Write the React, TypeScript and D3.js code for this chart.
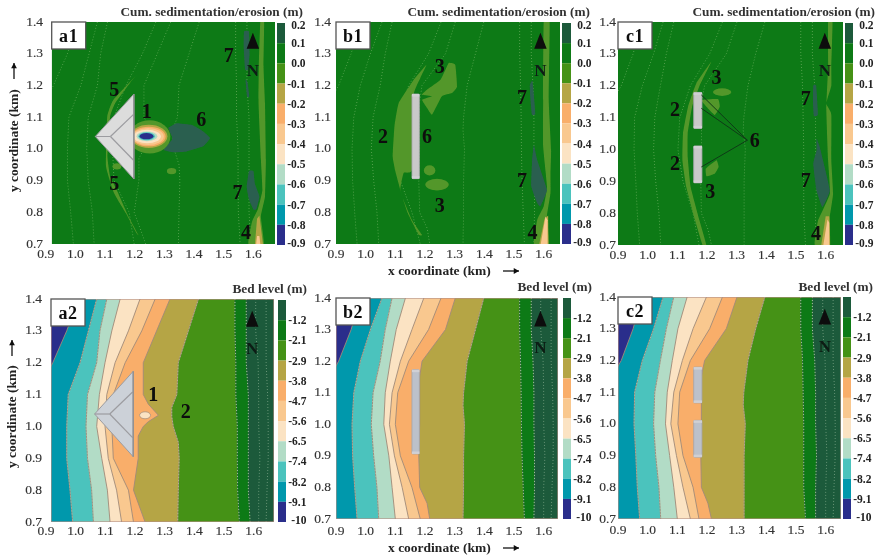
import React from "react";
import * as d3 from "d3";

type P = [number, number];

// ---------- colour scale ----------
const paletteColors = ["#1b5a3a", "#0a7a14", "#459216", "#b5a545", "#f9ae6a", "#f9c88f", "#fbe3c3", "#b2dcc6", "#4cc3bd", "#0098ac", "#2b2e8b"];
const erosionTicks = ["0.2", "0.1", "0.0", "-0.1", "-0.2", "-0.3", "-0.4", "-0.5", "-0.6", "-0.7", "-0.8", "-0.9"];
const bedTicks = ["", "-1.2", "-2.1", "-2.9", "-3.8", "-4.7", "-5.6", "-6.5", "-7.4", "-8.2", "-9.1", "-10"];
const xTicks = [0.9, 1.0, 1.1, 1.2, 1.3, 1.4, 1.5, 1.6];
const yTicks = [0.7, 0.8, 0.9, 1.0, 1.1, 1.2, 1.3, 1.4];
const yLevels = [1.4, 1.3, 1.2, 1.1, 1.0, 0.9, 0.8, 0.7];

// ---------- bed level contours (km), x at each y level ----------
const a2I1 = [0.992, 0.953, 0.906, 0.85, 0.8, 0.8, 0.8, 0.8];
const a2I2 = [1.054, 1.026, 0.998, 0.958, 0.953, 0.953, 0.964, 0.973];
const a2I3 = [1.088, 1.065, 1.054, 1.023, 1.018, 1.023, 1.037, 1.043];
const a2I4 = [1.133, 1.105, 1.082, 1.063, 1.054, 1.071, 1.09, 1.099];
const a2I5 = [1.2, 1.161, 1.116, 1.088, 1.082, 1.093, 1.121, 1.138];
const a2I6 = [1.251, 1.206, 1.15, 1.11, 1.105, 1.11, 1.161, 1.178];
const a2I7: P[] = [[1.301, 1.4], [1.256, 1.3], [1.211, 1.2], [1.211, 1.1], [1.228, 1.07], [1.262, 1.035], [1.228, 1.015], [1.211, 1.0], [1.194, 0.97], [1.194, 0.9], [1.178, 0.8], [1.217, 0.7]];
const a2I8: P[] = [[1.397, 1.4], [1.363, 1.3], [1.329, 1.2], [1.324, 1.1], [1.307, 1.06], [1.307, 1.03], [1.312, 1.0], [1.329, 0.95], [1.332, 0.9], [1.329, 0.8], [1.327, 0.7]];
const a2I9 = [1.52, 1.52, 1.523, 1.523, 1.528, 1.528, 1.529, 1.535];
const a2I10 = [1.558, 1.558, 1.558, 1.565, 1.565, 1.565, 1.565, 1.571];

const b2I1 = [0.982, 0.951, 0.909, 0.85, 0.8, 0.8, 0.8, 0.8];
const b2I2 = [1.055, 1.016, 0.982, 0.96, 0.954, 0.956, 0.963, 0.971];
const b2I3 = [1.089, 1.066, 1.049, 1.025, 1.019, 1.027, 1.038, 1.044];
const b2I4 = [1.134, 1.103, 1.083, 1.066, 1.061, 1.078, 1.089, 1.1];
const b2I5 = [1.196, 1.156, 1.117, 1.089, 1.08, 1.097, 1.123, 1.145];
const b2I6 = [1.254, 1.212, 1.145, 1.108, 1.1, 1.117, 1.156, 1.184];
const b2I7: P[] = [[1.302, 1.4], [1.269, 1.3], [1.19, 1.2], [1.182, 1.15], [1.182, 1.0], [1.179, 0.9], [1.182, 0.8], [1.207, 0.75], [1.216, 0.7]];
const b2I8: P[] = [[1.398, 1.4], [1.37, 1.3], [1.342, 1.2], [1.33, 1.1], [1.328, 1.06], [1.333, 1.0], [1.33, 0.9], [1.33, 0.8], [1.328, 0.7]];
const b2I9 = [1.519, 1.519, 1.522, 1.524, 1.525, 1.527, 1.531, 1.535];
const b2I10 = [1.558, 1.558, 1.564, 1.567, 1.567, 1.569, 1.569, 1.567];

const c2I1 = [0.979, 0.951, 0.911, 0.85, 0.8, 0.8, 0.8, 0.8];
const c2I2 = [1.052, 1.02, 0.982, 0.956, 0.954, 0.96, 0.965, 0.973];
const c2I3 = [1.088, 1.063, 1.043, 1.024, 1.02, 1.027, 1.038, 1.044];
const c2I4 = [1.133, 1.102, 1.083, 1.066, 1.06, 1.074, 1.088, 1.1];
const c2I5 = [1.198, 1.153, 1.117, 1.088, 1.078, 1.097, 1.119, 1.144];
const c2I6 = [1.252, 1.209, 1.144, 1.108, 1.102, 1.119, 1.153, 1.173];
const c2I7: P[] = [[1.301, 1.4], [1.265, 1.3], [1.192, 1.2], [1.181, 1.15], [1.181, 1.0], [1.179, 0.9], [1.181, 0.8], [1.203, 0.75], [1.215, 0.7]];
const c2I8: P[] = [[1.395, 1.4], [1.364, 1.3], [1.338, 1.2], [1.324, 1.1], [1.322, 1.06], [1.329, 1.0], [1.325, 0.9], [1.325, 0.8], [1.325, 0.7]];
const c2I9 = [1.516, 1.516, 1.522, 1.524, 1.526, 1.526, 1.526, 1.532];
const c2I10 = [1.555, 1.555, 1.563, 1.566, 1.566, 1.569, 1.566, 1.566];

const shoalDots1 = [1.59, 1.59, 1.598, 1.6, 1.6, 1.604, 1.6, 1.6];
const shoalDots2 = [1.625, 1.625, 1.625, 1.63, 1.632, 1.632, 1.628, 1.625];

// ---------- sedimentation / erosion patches (km) ----------
const a1Band: P[] = [[1.187, 1.234], [1.164, 1.208], [1.114, 1.144], [1.097, 1.102], [1.088, 0.976], [1.097, 0.913], [1.119, 0.871], [1.159, 0.787], [1.192, 0.729], [1.186, 0.734], [1.15, 0.797], [1.11, 0.861], [1.083, 0.945], [1.087, 1.102], [1.108, 1.155]];
const a1Strip: P[] = [[1.603, 1.4], [1.616, 1.4], [1.614, 1.26], [1.619, 1.144], [1.622, 0.966], [1.619, 0.85], [1.605, 0.787], [1.615, 0.7], [1.563, 0.7], [1.575, 0.77], [1.595, 0.81], [1.61, 0.87], [1.605, 0.966], [1.597, 1.144], [1.598, 1.26]];
const a1Olive: P[] = [[1.592, 0.78], [1.6, 0.79], [1.612, 0.7], [1.585, 0.7]];
const a1Orange: P[] = [[1.592, 0.725], [1.6, 0.725], [1.603, 0.7], [1.589, 0.7]];
const a1Dark1: P[] = [[1.548, 1.37], [1.565, 1.37], [1.567, 1.3], [1.562, 1.25], [1.552, 1.25], [1.547, 1.32]];
const a1Dark2: P[] = [[1.553, 1.22], [1.56, 1.21], [1.566, 1.165], [1.558, 1.165]];
const a1Dark3: P[] = [[1.565, 0.93], [1.58, 0.93], [1.585, 0.89], [1.6, 0.85], [1.59, 0.81], [1.58, 0.808], [1.565, 0.84], [1.557, 0.88]];
const a1Plume: P[] = [[1.293, 1.066], [1.321, 1.081], [1.372, 1.076], [1.411, 1.055], [1.434, 1.034], [1.411, 1.008], [1.355, 0.992], [1.31, 0.989], [1.277, 0.997], [1.305, 1.029], [1.305, 1.039]];
// scour rings: [xMin, xMax, yMin, yMax]
const a1ScourRings: [number, number, number, number][] = [
  [1.16, 1.3, 0.985, 1.09], [1.165, 1.29, 1.003, 1.076], [1.17, 1.284, 1.008, 1.07], [1.172, 1.278, 1.012, 1.066],
  [1.176, 1.268, 1.018, 1.06], [1.186, 1.256, 1.024, 1.055], [1.192, 1.248, 1.027, 1.052], [1.196, 1.243, 1.03, 1.05],
];
const a1ScourColors = [2, 3, 4, 5, 6, 7, 8, 10];
const a1Spots: [number, number, number, number][] = [[1.288, 1.32, 0.92, 0.94], [1.105, 1.135, 0.935, 0.955]];

const b1Band: P[] = [[1.205, 1.265], [1.162, 1.218], [1.111, 1.144], [1.097, 1.071], [1.091, 0.976], [1.1, 0.929], [1.123, 0.85], [1.156, 0.776], [1.19, 0.729], [1.179, 0.729], [1.142, 0.797], [1.117, 0.871], [1.128, 0.924], [1.156, 0.934], [1.162, 1.171], [1.184, 1.223]];
const b1Upper: P[] = [[1.28, 1.271], [1.302, 1.265], [1.308, 1.197], [1.291, 1.176], [1.257, 1.166], [1.224, 1.108], [1.207, 1.129], [1.19, 1.155], [1.224, 1.166], [1.19, 1.171], [1.207, 1.187], [1.252, 1.218], [1.269, 1.25]];
const b1Spots: [number, number, number, number][] = [[1.196, 1.235, 0.916, 0.948], [1.201, 1.28, 0.869, 0.906]];
const b1Strip: P[] = [[1.6, 1.4], [1.62, 1.4], [1.617, 1.155], [1.625, 0.997], [1.623, 0.924], [1.623, 0.861], [1.611, 0.787], [1.617, 0.7], [1.567, 0.7], [1.578, 0.776], [1.6, 0.819], [1.611, 0.882], [1.598, 1.008], [1.598, 1.155]];
const b1Olive: P[] = [[1.603, 0.78], [1.615, 0.79], [1.616, 0.7], [1.585, 0.7]];
const b1Orange: P[] = [[1.606, 0.787], [1.613, 0.775], [1.613, 0.7], [1.59, 0.7]];
const b1Dark1: P[] = [[1.553, 1.2], [1.562, 1.215], [1.567, 1.17], [1.572, 1.11], [1.56, 1.108], [1.555, 1.16]];
const b1Dark2: P[] = [[1.567, 1.013], [1.578, 0.966], [1.611, 0.871], [1.589, 0.819], [1.578, 0.829], [1.558, 0.882], [1.561, 0.966]];

const c1Band: P[] = [[1.215, 1.276], [1.164, 1.208], [1.136, 1.134], [1.119, 1.05], [1.117, 0.966], [1.13, 0.882], [1.16, 0.776], [1.185, 0.7], [1.198, 0.7], [1.175, 0.776], [1.145, 0.882], [1.135, 0.976], [1.135, 1.05], [1.15, 1.134], [1.175, 1.2]];
const c1Blob: P[] = [[1.181, 1.155], [1.237, 1.158], [1.243, 1.134], [1.226, 1.108], [1.198, 1.134]];
const c1Blob2: P[] = [[1.232, 0.966], [1.239, 0.945], [1.226, 0.924], [1.198, 0.916], [1.196, 0.94]];
const c1Spots: [number, number, number, number][] = [[1.22, 1.282, 1.168, 1.192]];
const c1Strip: P[] = [[1.608, 1.4], [1.623, 1.4], [1.619, 1.26], [1.619, 1.2], [1.602, 1.144], [1.619, 1.11], [1.619, 0.966], [1.625, 0.861], [1.614, 0.787], [1.614, 0.7], [1.563, 0.7], [1.574, 0.776], [1.614, 0.861], [1.608, 0.966], [1.602, 1.125], [1.608, 1.26]];
const c1Olive: P[] = [[1.6, 0.79], [1.612, 0.79], [1.615, 0.7], [1.585, 0.7]];
const c1Orange: P[] = [[1.606, 0.78], [1.612, 0.77], [1.612, 0.7], [1.592, 0.7]];
const c1Dark1: P[] = [[1.558, 1.2], [1.568, 1.2], [1.574, 1.11], [1.56, 1.105], [1.557, 1.15]];
const c1Dark2: P[] = [[1.569, 1.034], [1.58, 1.008], [1.591, 0.966], [1.614, 0.871], [1.589, 0.819], [1.569, 0.871], [1.558, 0.955], [1.569, 0.997]];
const c1Leaders: P[][] = [[[1.336, 1.029], [1.181, 1.171]], [[1.336, 1.029], [1.181, 1.129]], [[1.336, 1.029], [1.181, 0.945]]];

// ---------- structures (km) ----------
const arrowOuter: P[] = [[1.047, 1.039], [1.177, 1.173], [1.177, 0.905]];
const arrowInnerLines: P[][] = [[[1.047, 1.039], [1.098, 1.039]], [[1.098, 1.039], [1.175, 1.108]], [[1.098, 1.039], [1.175, 0.965]]];
const breakwaterB: [number, number, number, number][] = [[1.156, 1.181, 0.906, 1.173]];
const breakwaterC: [number, number, number, number][] = [[1.155, 1.183, 1.066, 1.179], [1.155, 1.183, 0.895, 1.011]];

// ---------- numbered annotations ----------
const a1Notes: [string, number, number][] = [["5", 1.111, 1.189], ["1", 1.22, 1.118], ["6", 1.404, 1.094], ["5", 1.111, 0.892], ["7", 1.497, 1.297], ["7", 1.526, 0.863], ["4", 1.555, 0.738]];
const a2Notes: [string, number, number][] = [["1", 1.245, 1.101], ["2", 1.354, 1.049]];
const b1Notes: [string, number, number][] = [["3", 1.25, 1.26], ["2", 1.058, 1.041], ["6", 1.207, 1.041], ["3", 1.25, 0.824], ["7", 1.527, 1.162], ["7", 1.527, 0.903], ["4", 1.562, 0.737]];
const c1Notes: [string, number, number][] = [["3", 1.232, 1.226], ["2", 1.092, 1.126], ["2", 1.092, 0.957], ["6", 1.361, 1.031], ["3", 1.211, 0.869], ["7", 1.533, 1.163], ["7", 1.533, 0.903], ["4", 1.567, 0.737]];

const FONT = "'Liberation Serif','Times New Roman',serif";
const PATCH_GREEN = "#52972a";
const PATCH_DARK = "#2c5f50";
const zip = (xs: number[]): P[] => xs.map((x, i) => [x, yLevels[i]] as P);

const a2Lines: P[][] = [zip(a2I1), zip(a2I2), zip(a2I3), zip(a2I4), zip(a2I5), zip(a2I6), a2I7, a2I8, zip(a2I9), zip(a2I10)];
const b2Lines: P[][] = [zip(b2I1), zip(b2I2), zip(b2I3), zip(b2I4), zip(b2I5), zip(b2I6), b2I7, b2I8, zip(b2I9), zip(b2I10)];
const c2Lines: P[][] = [zip(c2I1), zip(c2I2), zip(c2I3), zip(c2I4), zip(c2I5), zip(c2I6), c2I7, c2I8, zip(c2I9), zip(c2I10)];
const topDotted = [0, 1, 2, 5, 6, 7, 8, 9];
const bedDotted = [1, 2, 7, 8, 9];

type Panel = {
  id: string; kind: "top" | "bed"; L: number; R: number; T: number; B: number; cL: number; cR: number; cT: number; cB: number;
  tickDx: number; yEnd: number; xLabelY: number; titleEnd: number; titleY: number; north: number; nTop: number; lines: P[][]; notes: [string, number, number][];
};

const panels: Panel[] = [
  { id: "a1", kind: "top", L: 51.7, R: 275, T: 22, B: 244, cL: 277, cR: 285, cT: 23, cB: 245, tickDx: -6, yEnd: 43, xLabelY: 257.5, titleEnd: 303, titleY: 16, north: 1.578, nTop: 1.366, lines: a2Lines, notes: a1Notes },
  { id: "b1", kind: "top", L: 336, R: 560, T: 22, B: 244, cL: 562, cR: 571, cT: 23, cB: 244, tickDx: 0, yEnd: 331, xLabelY: 258, titleEnd: 590, titleY: 16, north: 1.589, nTop: 1.366, lines: b2Lines, notes: b1Notes },
  { id: "c1", kind: "top", L: 618, R: 843, T: 22, B: 245, cL: 845, cR: 853, cT: 23, cB: 245, tickDx: 0, yEnd: 616, xLabelY: 258.5, titleEnd: 875, titleY: 16, north: 1.597, nTop: 1.366, lines: c2Lines, notes: c1Notes },
  { id: "a2", kind: "bed", L: 51, R: 274, T: 299, B: 522, cL: 278, cR: 286, cT: 300, cB: 522, tickDx: -5, yEnd: 42, xLabelY: 535, titleEnd: 307, titleY: 293, north: 1.578, nTop: 1.363, lines: a2Lines, notes: a2Notes },
  { id: "b2", kind: "bed", L: 336, R: 558, T: 298, B: 519, cL: 563, cR: 571, cT: 298, cB: 519, tickDx: 0, yEnd: 331, xLabelY: 534.5, titleEnd: 592, titleY: 291, north: 1.589, nTop: 1.36, lines: b2Lines, notes: [] },
  { id: "c2", kind: "bed", L: 618, R: 841, T: 297, B: 519, cL: 843, cR: 851, cT: 297, cB: 519, tickDx: 0, yEnd: 616, xLabelY: 533.5, titleEnd: 873, titleY: 291, north: 1.597, nTop: 1.363, lines: c2Lines, notes: [] },
];

const patches: Record<string, { color: number; pts: P[] }[]> = {
  a1: [
    { color: 2, pts: a1Band }, { color: 2, pts: a1Strip }, { color: 3, pts: a1Olive }, { color: 5, pts: a1Orange },
    { color: -1, pts: a1Dark1 }, { color: -1, pts: a1Dark2 }, { color: -1, pts: a1Dark3 }, { color: -1, pts: a1Plume },
  ],
  b1: [
    { color: 2, pts: b1Band }, { color: 2, pts: b1Upper }, { color: 2, pts: b1Strip }, { color: 3, pts: b1Olive }, { color: 5, pts: b1Orange },
    { color: -1, pts: b1Dark1 }, { color: -1, pts: b1Dark2 },
  ],
  c1: [
    { color: 2, pts: c1Band }, { color: 2, pts: c1Blob }, { color: 2, pts: c1Blob2 }, { color: 2, pts: c1Strip }, { color: 3, pts: c1Olive }, { color: 5, pts: c1Orange },
    { color: -1, pts: c1Dark1 }, { color: -1, pts: c1Dark2 },
  ],
};
const spots: Record<string, [number, number, number, number][]> = { a1: a1Spots, b1: b1Spots, c1: c1Spots };

function Arrow({ x1, y1, x2, y2 }: { x1: number; y1: number; x2: number; y2: number }) {
  const a = Math.atan2(y2 - y1, x2 - x1);
  const h = 6;
  const pts = [[x2, y2], [x2 - h * Math.cos(a - 0.5), y2 - h * Math.sin(a - 0.5)], [x2 - h * Math.cos(a + 0.5), y2 - h * Math.sin(a + 0.5)]];
  return (
    <g>
      <line x1={x1} y1={y1} x2={x2} y2={y2} stroke="#111" strokeWidth={1.3} />
      <polygon points={pts.map((p) => p.join(",")).join(" ")} fill="#111" />
    </g>
  );
}

function PanelView({ p }: { p: Panel }) {
  const x = d3.scaleLinear().domain([0.9, 1.6]).range([p.L, p.L + 207.7]);
  const y = d3.scaleLinear().domain([0.7, 1.4]).range([p.B, p.T]);
  const line = d3.line<P>().x((d) => x(d[0])).y((d) => y(d[1]));
  const closed = (pts: P[]) => (line(pts) || "") + "Z";
  const smooth = d3.line<P>().x((d) => x(d[0])).y((d) => y(d[1])).curve(d3.curveCardinalClosed.tension(0.65));
  const clipId = "clip-" + p.id;
  const isBed = p.kind === "bed";
  const xEndKm = 1.7;
  const cells = d3.range(paletteColors.length);
  const cY = d3.scaleLinear().domain([0, paletteColors.length]).range([p.cT, p.cB]);
  const ticks = isBed ? bedTicks : erosionTicks;
  const family = p.id[0];

  return (
    <g>
      <clipPath id={clipId}>
        <rect x={p.L} y={p.T} width={p.R - p.L} height={p.B - p.T} />
      </clipPath>
      <g clipPath={`url(#${clipId})`}>
        {isBed ? (
          <g>
            <rect x={p.L} y={p.T} width={p.R - p.L} height={p.B - p.T} fill={paletteColors[10]} />
            {p.lines.map((pts, i) => (
              <path key={i} d={closed([...pts, [xEndKm, 0.7], [xEndKm, 1.4]])} fill={paletteColors[9 - i]} />
            ))}
            {p.lines.map((pts, i) => (
              <path key={i} d={line(pts) || ""} fill="none" stroke={i >= 8 ? "#2f6a3e" : "#a08a78"} strokeWidth={0.9} />
            ))}
            {bedDotted.map((k) => (
              <path key={k} d={line(p.lines[k]) || ""} fill="none" stroke="#e8f0d8" strokeOpacity={k >= 8 ? 0.75 : 0.45} strokeWidth={0.9} strokeDasharray="1 2" />
            ))}
            {[zip(shoalDots1), zip(shoalDots2)].map((pts, i) => (
              <path key={i} d={line(pts) || ""} fill="none" stroke="#cfe0c8" strokeOpacity={0.55} strokeWidth={0.8} strokeDasharray="1 2" />
            ))}
            {p.id === "a2" && (
              <g>
                <ellipse cx={x(1.217)} cy={y(1.035)} rx={5.5} ry={3.5} fill={paletteColors[6]} stroke="#a08a78" strokeWidth={0.7} />
              </g>
            )}
            <rect x={p.L} y={p.T} width={p.R - p.L} height={p.B - p.T} fill="none" stroke="#b58f86" strokeWidth={1.2} />
          </g>
        ) : (
          <g>
            <rect x={p.L} y={p.T} width={p.R - p.L} height={p.B - p.T} fill={paletteColors[1]} />
            {topDotted.map((k) => (
              <path key={k} d={line(p.lines[k]) || ""} fill="none" stroke="#d5e3b0" strokeOpacity={0.42} strokeWidth={0.9} strokeDasharray="1 2" />
            ))}
            {patches[p.id].map((q, i) => (
              <path
                key={i}
                d={q.color >= 3 ? closed(q.pts) : smooth(q.pts) || ""}
                fill={q.color < 0 ? PATCH_DARK : q.color === 2 ? PATCH_GREEN : paletteColors[q.color]}
              />
            ))}
            {(spots[p.id] || []).map((s, i) => (
              <ellipse key={i} cx={(x(s[0]) + x(s[1])) / 2} cy={(y(s[2]) + y(s[3])) / 2} rx={(x(s[1]) - x(s[0])) / 2} ry={(y(s[2]) - y(s[3])) / 2} fill={PATCH_GREEN} />
            ))}
            {p.id === "a1" && a1ScourRings.map((s, i) => (
              <ellipse key={i} cx={(x(s[0]) + x(s[1])) / 2} cy={(y(s[2]) + y(s[3])) / 2} rx={(x(s[1]) - x(s[0])) / 2} ry={(y(s[2]) - y(s[3])) / 2} fill={a1ScourColors[i] === 2 ? PATCH_GREEN : paletteColors[a1ScourColors[i]]} />
            ))}
          </g>
        )}

        {/* structures */}
        {family === "a" && (
          <g>
            <path d={closed(arrowOuter)} fill={isBed ? "#ccd1d8" : "#dcdcdc"} stroke="#9c9ca0" strokeWidth={1} />
            {arrowInnerLines.map((l, i) => (
              <path key={i} d={line(l) || ""} fill="none" stroke="#9c9ca0" strokeWidth={1.2} />
            ))}
            <path d={line([arrowOuter[1], arrowOuter[2]]) || ""} stroke="#8f8f92" strokeWidth={1.4} fill="none" />
          </g>
        )}
        {family !== "a" && (family === "b" ? breakwaterB : breakwaterC).map((b, i) => (
          <g key={i}>
            <rect x={x(b[0])} y={y(b[3])} width={x(b[1]) - x(b[0])} height={y(b[2]) - y(b[3])} rx={1} fill={isBed ? "#bcc1ca" : "#c9c9c9"} stroke="#a5a5a9" strokeWidth={0.8} />
            <rect x={x(b[0])} y={y(b[3])} width={x(b[1]) - x(b[0])} height={2.5} fill="#d0d0d4" />
            <rect x={x(b[0])} y={y(b[2]) - 2.5} width={x(b[1]) - x(b[0])} height={2.5} fill="#d0d0d4" />
          </g>
        ))}
        {p.id === "c1" && c1Leaders.map((l, i) => (
          <path key={i} d={line(l) || ""} stroke="#123a16" strokeWidth={1} fill="none" />
        ))}

        {/* north marker */}
        <path d={closed([[p.north, p.nTop], [p.north + 0.021, p.nTop - 0.05], [p.north - 0.021, p.nTop - 0.05]])} fill="#0a0a0a" />
      </g>
      <text x={x(p.north)} y={y(p.nTop - 0.118)} textAnchor="middle" dominantBaseline="central" fontFamily={FONT} fontWeight="bold" fontSize={17} fill="#0c1c12">N</text>

      {p.notes.map((n, i) => (
        <text key={i} x={x(n[1])} y={y(n[2])} textAnchor="middle" dominantBaseline="central" fontFamily={FONT} fontWeight="bold" fontSize={20} fill="#0a0a0a">{n[0]}</text>
      ))}

      {/* panel tag */}
      <rect x={p.L} y={p.T} width={34} height={27} fill="#fff" stroke="#555" strokeWidth={1.3} />
      <text x={p.L + 17} y={p.T + 13.5} textAnchor="middle" dominantBaseline="central" fontFamily={FONT} fontWeight="bold" fontSize={18} letterSpacing={0.6} fill="#111">{p.id}</text>

      {/* axes tick labels */}
      {xTicks.map((t) => (
        <text key={t} x={x(t) + p.tickDx} y={p.xLabelY} textAnchor="middle" fontFamily={FONT} fontSize={13.5} fill="#333" stroke="#333" strokeWidth={0.15}>{t.toFixed(1)}</text>
      ))}
      {yTicks.map((t) => (
        <text key={t} x={p.yEnd} y={y(t) - 1} textAnchor="end" dominantBaseline="central" fontFamily={FONT} fontSize={13.5} fill="#333" stroke="#333" strokeWidth={0.15}>{t.toFixed(1)}</text>
      ))}

      {/* colour bar */}
      {cells.map((i) => (
        <rect key={i} x={p.cL} y={cY(i)} width={p.cR - p.cL} height={cY(i + 1) - cY(i)} fill={paletteColors[i]} />
      ))}
      {ticks.map((t, i) => (
        <text key={i} x={p.cR + 20.5} y={i === 0 ? cY(0) + 2 : cY(i) - (i === 11 ? 2 : 0)} textAnchor="end" dominantBaseline="central" fontFamily={FONT} fontWeight="bold" fontSize={11.5} fill="#222">{t}</text>
      ))}
      <text x={p.titleEnd} y={p.titleY} textAnchor="end" fontFamily={FONT} fontWeight="bold" fontSize={13.3} fill="#333">
        {isBed ? "Bed level (m)" : "Cum. sedimentation/erosion (m)"}
      </text>
    </g>
  );
}

export default function App() {
  return (
    <svg width={880} height={559} style={{ position: "absolute", left: 0, top: 0, display: "block", background: "#fff" }}>
      <defs>
        <filter id="soft" x="0" y="0" width="100%" height="100%" filterUnits="objectBoundingBox">
          <feGaussianBlur stdDeviation={0.45} />
        </filter>
      </defs>
      <rect width={880} height={559} fill="#fff" />
      <g filter="url(#soft)">
        {panels.map((p) => (
          <PanelView key={p.id} p={p} />
        ))}
        <g fontFamily={FONT} fontWeight="bold" fontSize={13.5} fill="#222">
          <text x={388} y={275}>x coordinate (km)</text>
          <text x={388} y={552}>x coordinate (km)</text>
          <text transform="translate(18,192) rotate(-90)">y coordinate (km)</text>
          <text transform="translate(16,468) rotate(-90)">y coordinate (km)</text>
        </g>
        <Arrow x1={503} y1={271} x2={519} y2={271} />
        <Arrow x1={503} y1={548} x2={519} y2={548} />
        <Arrow x1={14} y1={79} x2={14} y2={63} />
        <Arrow x1={12} y1={356} x2={12} y2={340} />
      </g>
    </svg>
  );
}
